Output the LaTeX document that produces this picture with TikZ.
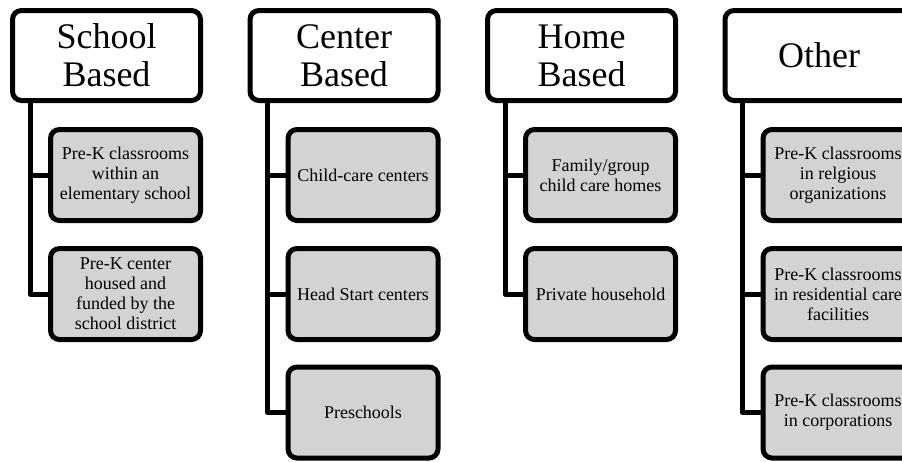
\documentclass[tikz,border=0pt]{standalone}
\usepackage{fontspec}
\setmainfont{Liberation Serif}
\definecolor{boxgray}{RGB}{211,211,211}
\tikzset{
	head/.style={draw, line width=5pt, rounded corners=9pt, fill=white,
		minimum width=188pt, minimum height=90pt, inner sep=2pt, align=center,
		font=\fontsize{36}{38}\selectfont},
	item/.style={draw, line width=5pt, rounded corners=9pt, fill=boxgray,
		minimum width=150pt, minimum height=91pt, inner sep=2pt, align=center,
		font=\fontsize{18}{20}\selectfont},
	link/.style={line width=5pt, line join=round}
}
\begin{document}
\begin{tikzpicture}[x=1pt,y=-1pt]
	\clip (0,0) rectangle (902,461);

	% headers
	\node[head] (school) at (106.5,55.5) {School\\Based};
	\node[head] (center) at (344,55.5) {Center\\Based};
	\node[head] (home) at (581.5,55.5) {Home\\Based};
	\node[head] (other) at (819,55.5) {Other};

	% school based
	\node[item] (school1) at (125.5,175) {Pre-K classrooms\\within an\\elementary school};
	\node[item] (school2) at (125.5,294) {Pre-K center\\housed and\\funded by the\\school district};

	% center based
	\node[item] (center1) at (363,175) {Child-care centers};
	\node[item] (center2) at (363,294) {Head Start centers};
	\node[item] (center3) at (363,412.5) {Preschools};

	% home based
	\node[item] (home1) at (600.5,175) {Family/group\\child care homes};
	\node[item] (home2) at (600.5,294) {Private household};

	% other
	\node[item] (other1) at (838,175) {Pre-K classrooms\\in relgious\\organizations};
	\node[item] (other2) at (838,294) {Pre-K classrooms\\in residential care\\facilities};
	\node[item] (other3) at (838,412.5) {Pre-K classrooms\\in corporations};

	% connectors
	\coordinate (schoolbar) at ([xshift=20pt]school.south west);
	\coordinate (centerbar) at ([xshift=20pt]center.south west);
	\coordinate (homebar) at ([xshift=20pt]home.south west);
	\coordinate (otherbar) at ([xshift=20pt]other.south west);

	\draw[link] (schoolbar) |- (school2.west);
	\draw[link] (schoolbar |- school1.west) -- (school1.west);

	\draw[link] (centerbar) |- (center3.west);
	\draw[link] (centerbar |- center1.west) -- (center1.west);
	\draw[link] (centerbar |- center2.west) -- (center2.west);

	\draw[link] (homebar) |- (home2.west);
	\draw[link] (homebar |- home1.west) -- (home1.west);

	\draw[link] (otherbar) |- (other3.west);
	\draw[link] (otherbar |- other1.west) -- (other1.west);
	\draw[link] (otherbar |- other2.west) -- (other2.west);
\end{tikzpicture}
\end{document}
